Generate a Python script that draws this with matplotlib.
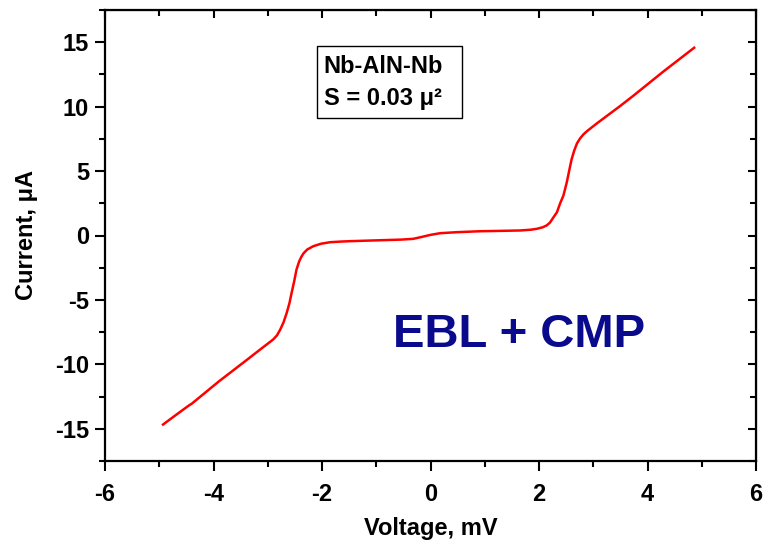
import matplotlib
matplotlib.use("Agg")
import matplotlib.pyplot as plt
from matplotlib.patches import Rectangle
from matplotlib.ticker import MultipleLocator

plt.rcParams['font.family'] = ['Liberation Sans', 'DejaVu Sans']
plt.rcParams['font.weight'] = 'bold'
plt.rcParams['axes.unicode_minus'] = False

# I-V curve
voltage = [-4.93, -4.70, -4.45, -4.40, -3.90, -3.40, -3.15, -2.90, -2.83, -2.77,
           -2.71, -2.65, -2.60, -2.56, -2.51, -2.47, -2.42, -2.38, -2.34, -2.27,
           -2.16, -2.02, -1.85, -1.65, -1.48, -0.87, -0.55, -0.32, -0.15, 0.00,
           0.18, 0.50, 0.91, 1.30, 1.65, 1.85, 1.96, 2.07, 2.14, 2.20,
           2.26, 2.33, 2.39, 2.45, 2.51, 2.55, 2.60, 2.65, 2.70, 2.76,
           2.82, 2.88, 2.96, 3.06, 3.20, 3.49, 3.74, 4.30, 4.86]
current = [-14.67, -13.95, -13.18, -13.05, -11.32, -9.70, -8.88, -8.07, -7.75, -7.30,
           -6.75, -6.00, -5.25, -4.45, -3.50, -2.64, -2.00, -1.65, -1.38, -1.08,
           -0.83, -0.64, -0.52, -0.47, -0.44, -0.36, -0.32, -0.26, -0.10, 0.05,
           0.18, 0.26, 0.33, 0.36, 0.39, 0.45, 0.52, 0.64, 0.78, 0.99,
           1.37, 1.80, 2.50, 3.10, 4.09, 4.90, 5.90, 6.60, 7.15, 7.55,
           7.85, 8.08, 8.35, 8.68, 9.12, 10.03, 10.85, 12.75, 14.57]

xticks = [-6, -4, -2, 0, 2, 4, 6]
yticks = [-15, -10, -5, 0, 5, 10, 15]

fig = plt.figure(figsize=(7.63, 5.43), dpi=100)
ax = fig.add_axes([105 / 763, 1 - 461 / 543, 651 / 763, 451 / 543])

ax.plot(voltage, current, color='#ff0000', lw=1.8, solid_joinstyle='round')

ax.set_xlim(-6, 6)
ax.set_ylim(-17.5, 17.5)
ax.set_xticks(xticks)
ax.set_yticks(yticks)
ax.xaxis.set_minor_locator(MultipleLocator(1))
ax.yaxis.set_minor_locator(MultipleLocator(2.5))

for s in ax.spines.values():
    s.set_linewidth(1.6)

ax.tick_params(which='major', length=7.5, width=1.5, labelsize=17, direction='out')
ax.tick_params(which='minor', length=4.5, width=1.5, direction='out')
ax.tick_params(axis='x', which='major', pad=8)
ax.tick_params(axis='y', which='major', pad=4)

# inward ticks on top and right
sec_x = ax.secondary_xaxis('top')
sec_x.set_xticks(xticks)
sec_x.xaxis.set_minor_locator(MultipleLocator(1))
sec_x.tick_params(which='major', direction='in', length=6, width=1.5, labeltop=False)
sec_x.tick_params(which='minor', direction='in', length=4.5, width=1.5)
sec_y = ax.secondary_yaxis('right')
sec_y.set_yticks(yticks)
sec_y.yaxis.set_minor_locator(MultipleLocator(2.5))
sec_y.tick_params(which='major', direction='in', length=6, width=1.5, labelright=False)
sec_y.tick_params(which='minor', direction='in', length=4.5, width=1.5)

ax.set_xlabel('Voltage, mV', fontsize=17, fontweight='bold', labelpad=8)
ax.set_ylabel('Current, \u03bcA', fontsize=17, fontweight='bold', labelpad=12)

# sample info box
ax.add_patch(Rectangle((0.325, 0.760), 0.2227, 0.161, transform=ax.transAxes,
                       fill=False, edgecolor='black', lw=1.0))
ax.text(0.336, 0.860, 'Nb-AlN-Nb', transform=ax.transAxes, fontsize=17,
        fontweight='bold', va='baseline')
ax.text(0.336, 0.789, 'S = 0.03 \u03bc\u00b2', transform=ax.transAxes, fontsize=17,
        fontweight='bold', va='baseline')

ax.text(0.442, 0.2535, 'EBL + CMP', transform=ax.transAxes, fontsize=34,
        fontweight='bold', color='#0a0a8c', va='baseline')

fig.savefig('out.png', dpi=100)
